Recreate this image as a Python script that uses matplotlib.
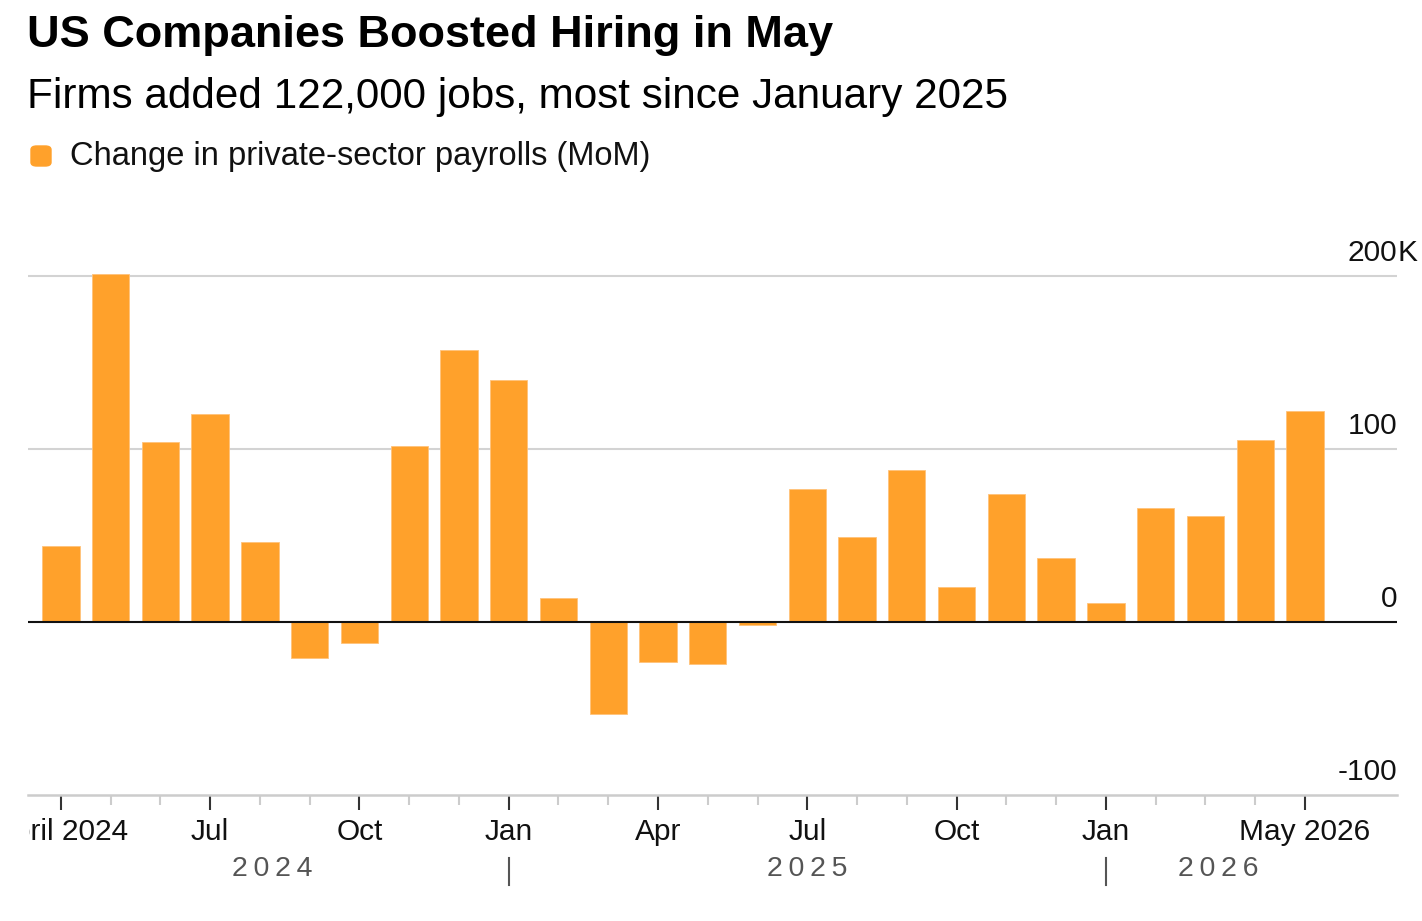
import matplotlib.pyplot as plt
import matplotlib.transforms as mtransforms
from matplotlib.patches import FancyBboxPatch
import numpy as np

plt.rcParams["font.family"] = ["Liberation Sans", "DejaVu Sans"]

# monthly change in private-sector payrolls, thousands (Apr 2024 .. May 2026)
months = ["Apr", "May", "Jun", "Jul", "Aug", "Sep", "Oct", "Nov", "Dec",
          "Jan", "Feb", "Mar", "Apr", "May", "Jun", "Jul", "Aug", "Sep", "Oct", "Nov", "Dec",
          "Jan", "Feb", "Mar", "Apr", "May"]
payrolls = [44, 201, 104, 120, 46, -21, -12, 102, 157,
            140, 14, -53, -23, -24, -2, 77, 49, 88, 20, 74, 37,
            11, 66, 61, 105, 122]
tick_labels = {0: "April 2024", 3: "Jul", 6: "Oct", 9: "Jan", 12: "Apr",
               15: "Jul", 18: "Oct", 21: "Jan", 25: "May 2026"}
year_labels = ["2024", "2025", "2026"]
year_starts = [9, 21]  # index of January in each new year
y_ticks = [-100, 0, 100, 200]

ORANGE = "#FFA12B"
W, H = 1422, 921

fig = plt.figure(figsize=(W / 100, H / 100), dpi=100)
ax = fig.add_axes([28 / W, 126 / H, (1397 - 28) / W, (310 * 1.73) / H])

x = np.arange(len(payrolls))
ax.bar(x, payrolls, width=0.75, color=ORANGE, edgecolor="#FFC27A", linewidth=0.6, zorder=2)

ax.set_xlim(-0.66, 26.85)
ax.set_ylim(-100, 210)

for v in [100, 200]:
    ax.axhline(v, color="#d3d3d3", lw=1.5, zorder=1)
ax.axhline(0, color="#111111", lw=1.5, zorder=3)

for s in ["top", "left", "right"]:
    ax.spines[s].set_visible(False)
ax.spines["bottom"].set_color("#cccccc")
ax.spines["bottom"].set_linewidth(1.8)
ax.set_yticks([])

ax.set_xticks(x, minor=True)
ax.set_xticks(list(tick_labels.keys()))
ax.set_xticklabels([])
ax.tick_params(axis="x", which="minor", length=7, width=1.5, color="#cccccc")
ax.tick_params(axis="x", which="major", length=11, width=1.5, color="#333333")

# tick labels drawn as texts so the first one is clipped at the left margin like the source
lab_tr = mtransforms.offset_copy(ax.get_xaxis_transform(), fig=fig, x=0, y=-23, units="dots")
clip = mtransforms.Bbox.from_extents(29, 0, W, H)
for i, lab in tick_labels.items():
    t = ax.text(i, 0, lab, transform=lab_tr, ha="center", va="top", fontsize=21.5,
                color="#111111", clip_on=True)
    t.set_clip_box(clip)

# year row
year_tr = mtransforms.offset_copy(ax.get_xaxis_transform(), fig=fig, x=0, y=-61, units="dots")
bounds = [-0.5] + year_starts + [len(payrolls) - 0.5]
for k, yr in enumerate(year_labels):
    mid = (bounds[k] + bounds[k + 1]) / 2
    ax.text(mid, 0, "\u2009".join(yr), transform=year_tr, ha="center", va="top",
            fontsize=20.5, color="#555555")
sep_tr = mtransforms.blended_transform_factory(ax.transData, fig.transFigure)
for j in year_starts:
    ax.plot([j, j], [1 - 858 / H, 1 - 885 / H], transform=sep_tr, color="#555555",
            lw=1.5, clip_on=False)

# y labels on the right, sitting above the gridlines
ylab_tr = mtransforms.offset_copy(ax.get_yaxis_transform(), fig=fig, x=0, y=15, units="dots")
for v in y_ticks:
    ax.text(1, v, str(v), transform=ylab_tr, ha="right", va="baseline", fontsize=21.5,
            color="#111111", clip_on=False)
ax.text(1, y_ticks[-1], "K", transform=ylab_tr, ha="left", va="baseline", fontsize=21.5,
        color="#111111", clip_on=False)

# titles
fig.text(27 / W, 1 - 47 / H, "US Companies Boosted Hiring in May", fontsize=32.5,
         fontweight="bold", ha="left", va="baseline", color="#000000")
fig.text(27 / W, 1 - 108 / H, "Firms added 122,000 jobs, most since January 2025",
         fontsize=30.4, ha="left", va="baseline", color="#000000")

# legend
fig.patches.append(FancyBboxPatch((31 / W, 1 - 166 / H), 20 / W, 20 / H,
                                  boxstyle="round,pad=0,rounding_size=0.004",
                                  transform=fig.transFigure, color=ORANGE))
fig.text(70 / W, 1 - 165 / H, "Change in private-sector payrolls (MoM)", fontsize=23.5,
         ha="left", va="baseline", color="#111111")

fig.savefig("out.png", dpi=100)
